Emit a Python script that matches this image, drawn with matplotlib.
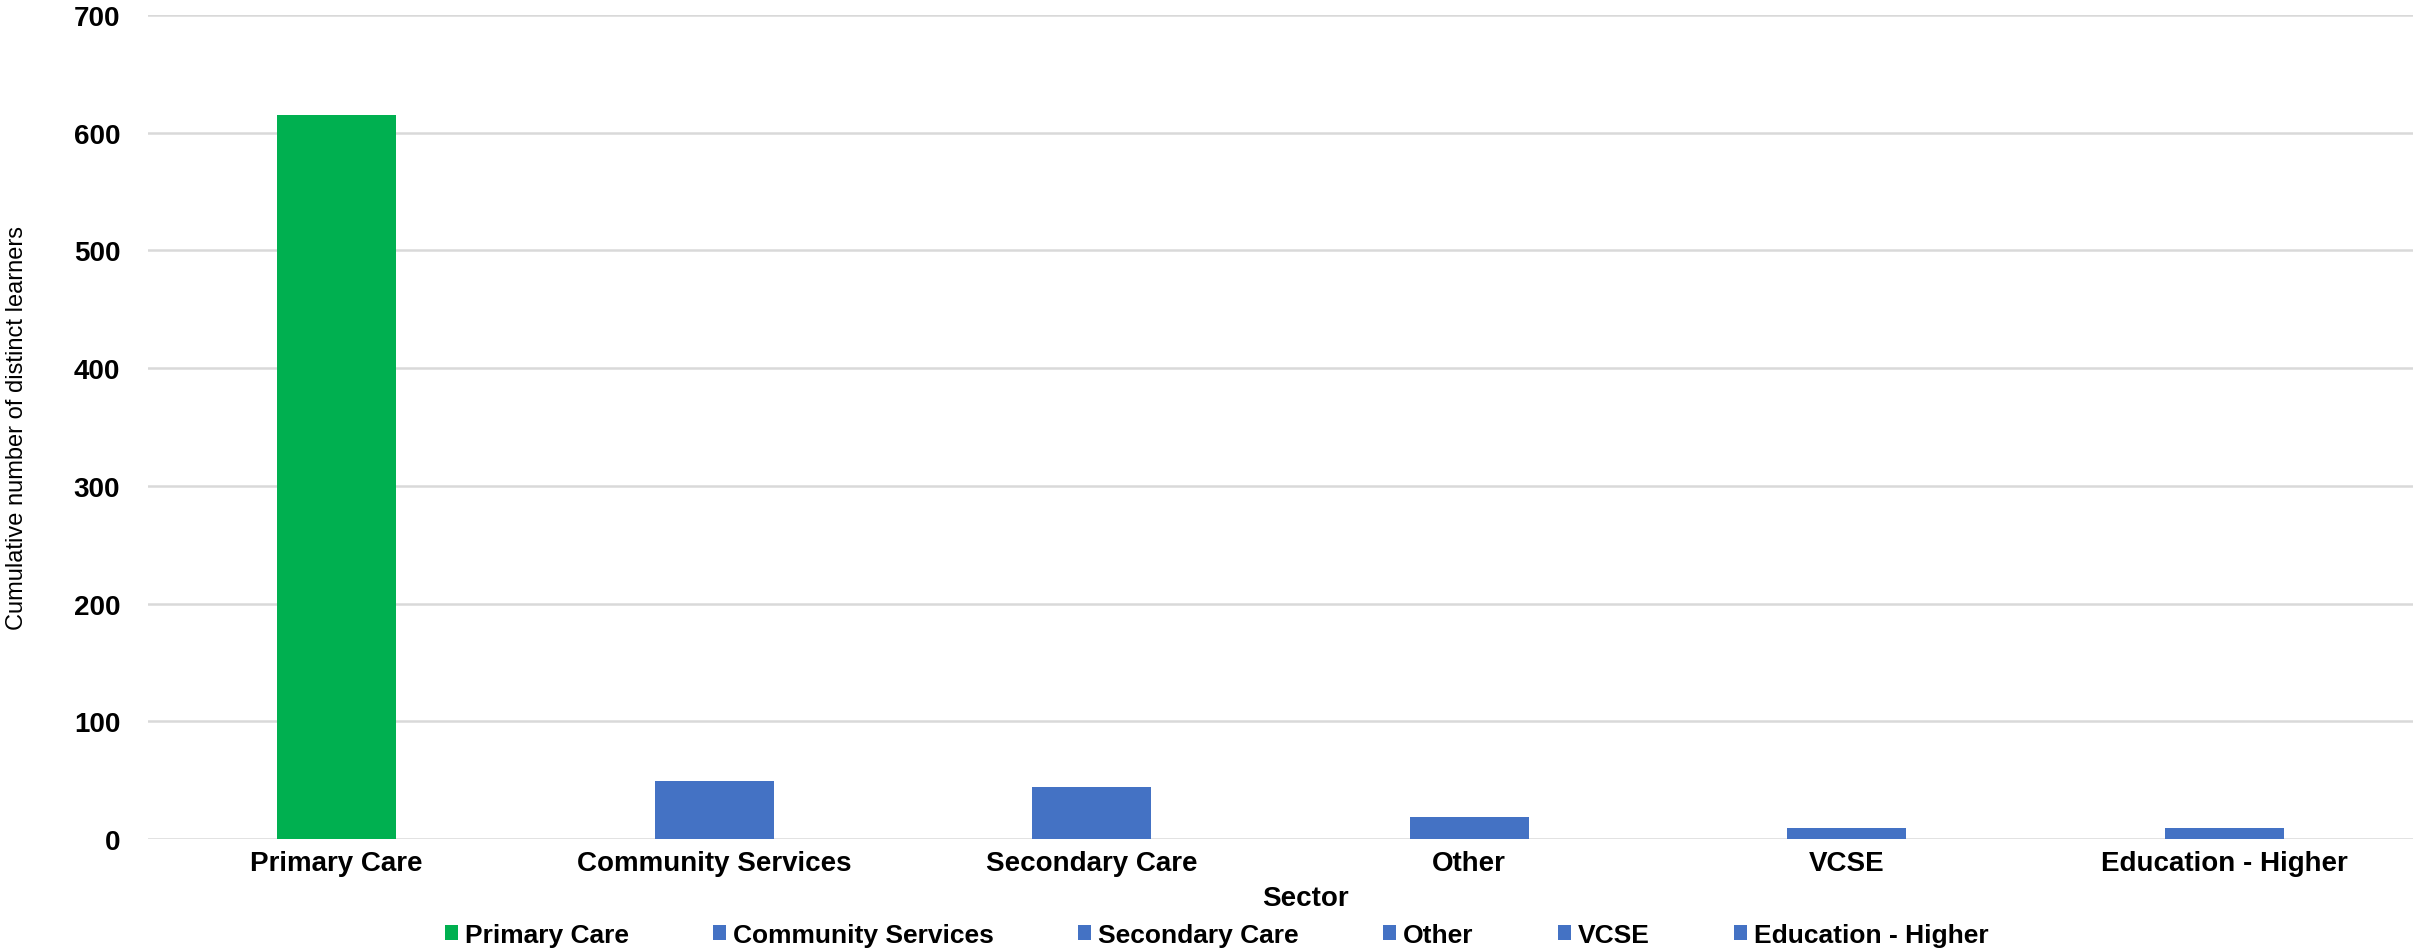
import matplotlib
matplotlib.use("Agg")
import matplotlib.pyplot as plt

# Data
sectors = ["Primary Care", "Community Services", "Secondary Care", "Other", "VCSE", "Education - Higher"]
learners = [615, 49, 44, 19, 9, 9]
bar_colors = ["#00B050", "#4472C4", "#4472C4", "#4472C4", "#4472C4", "#4472C4"]
yticks = [0, 100, 200, 300, 400, 500, 600, 700]

plt.rcParams['font.family'] = ['Liberation Sans', 'DejaVu Sans']

fig = plt.figure(figsize=(24.33, 9.53), dpi=100)
ax = fig.add_axes([0.0608, 0.1186, 0.931, 0.8646])

for i, (name, val, col) in enumerate(zip(sectors, learners, bar_colors)):
    ax.bar(i, val, width=0.316, color=col, label=name, zorder=3)

ax.set_xlim(-0.5, len(sectors) - 0.5)
ax.set_ylim(0, 700)
ax.set_yticks(yticks)
ax.set_xticks(range(len(sectors)))
ax.set_xticklabels(sectors, fontsize=20, fontweight='bold')
ax.tick_params(axis='y', length=0, pad=20, labelsize=20)
ax.tick_params(axis='x', length=0, pad=8)
for lab in ax.get_yticklabels():
    lab.set_fontweight('bold')

ax.grid(axis='y', color='#d9d9d9', linewidth=1.8, zorder=0)
for s in ax.spines.values():
    s.set_visible(False)

ax.set_ylabel("Cumulative number of distinct learners", fontsize=17)
ax.yaxis.set_label_coords(-0.053, 0.5)
ax.set_xlabel("Sector", fontsize=20, fontweight='bold')
ax.xaxis.set_label_coords(0.511, -0.056)

leg = fig.legend(loc='center', bbox_to_anchor=(0.5, 0.018), ncol=6, frameon=False,
                 prop={'size': 19, 'weight': 'bold'}, handlelength=0.5, handleheight=0.5,
                 handletextpad=0.25, columnspacing=3.2)

plt.savefig("out.png", dpi=100)
plt.close()
